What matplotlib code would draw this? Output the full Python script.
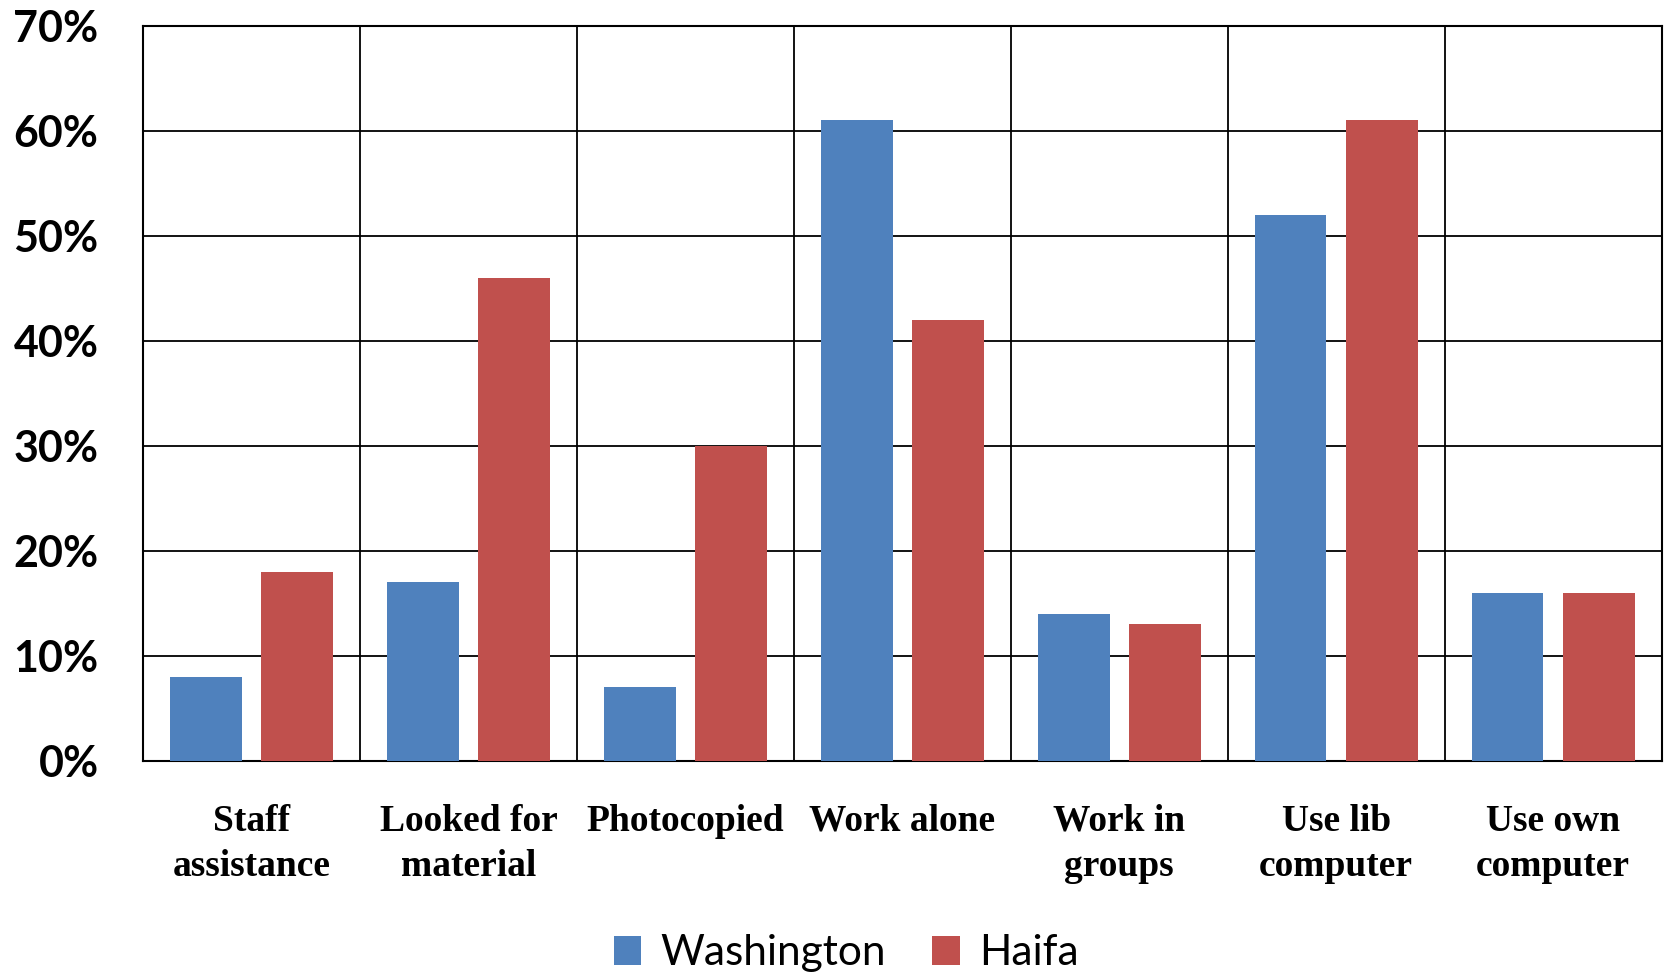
import numpy as np
from matplotlib import pyplot as plt
from matplotlib.ticker import PercentFormatter, MultipleLocator

categories = ['Staff\nassistance', 'Looked for\nmaterial', 'Photocopied',
              'Work alone', 'Work in\ngroups', 'Use lib\ncomputer', 'Use own\ncomputer']
washington = [0.08, 0.17, 0.07, 0.61, 0.14, 0.52, 0.16]
haifa = [0.18, 0.46, 0.30, 0.42, 0.13, 0.61, 0.16]

blue = '#4F81BD'
red = '#C0504D'

fig = plt.figure(figsize=(16.67, 9.73), dpi=100)
ax = fig.add_axes([0.0858, 0.218, 0.911, 0.7555])

x = np.arange(len(categories))
bar_width = 0.33
ax.bar(x - 0.21, washington, width=bar_width, color=blue, label='Washington', zorder=3)
ax.bar(x + 0.21, haifa, width=bar_width, color=red, label='Haifa', zorder=3)

ax.set_xlim(-0.5, len(categories) - 0.5)
ax.set_ylim(0, 0.7)
ax.yaxis.set_major_locator(MultipleLocator(0.1))
ax.yaxis.set_major_formatter(PercentFormatter(1.0, decimals=0))

ax.set_xticks(x)
ax.set_xticklabels(categories, fontfamily='Liberation Serif', fontweight='bold',
                   fontsize=27, linespacing=1.37)
ax.set_xticks(x[:-1] + 0.5, minor=True)

for lbl in ax.get_yticklabels():
    lbl.set_fontfamily('Lato')
    lbl.set_fontweight('bold')
    lbl.set_fontsize(31)

ax.tick_params(axis='y', length=0, pad=32)
ax.tick_params(axis='x', which='both', length=0, pad=31)

ax.set_axisbelow(True)
ax.grid(axis='y', which='major', color='black', linewidth=1.3)
ax.grid(axis='x', which='minor', color='black', linewidth=1.3)
for s in ax.spines.values():
    s.set_color('black')
    s.set_linewidth(1.5)

leg = ax.legend(loc='center', bbox_to_anchor=(0.463, -0.262), ncol=2, frameon=False,
                prop={'family': 'Lato', 'size': 30.5}, handlelength=0.65,
                handleheight=0.65, handletextpad=0.45, columnspacing=1.1)

fig.savefig('out.png', dpi=100)
